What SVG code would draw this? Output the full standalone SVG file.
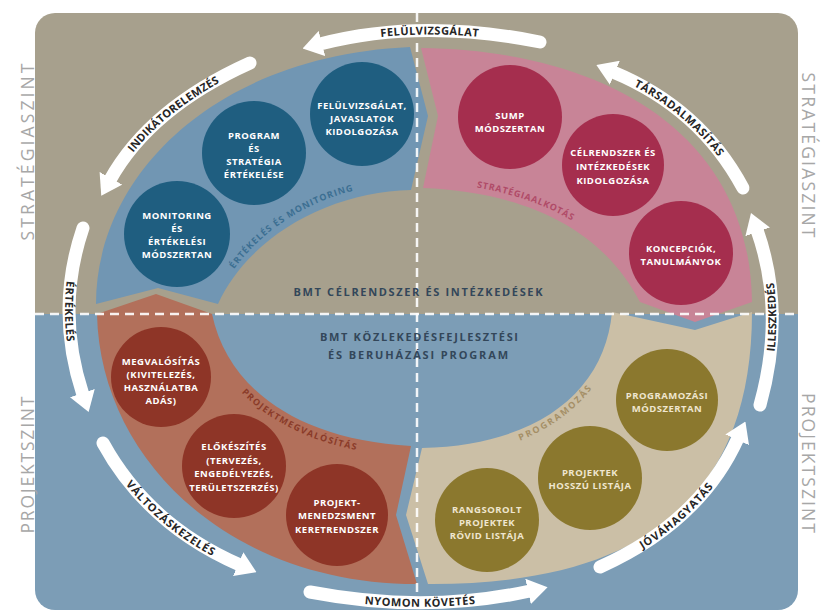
<svg xmlns="http://www.w3.org/2000/svg" width="822" height="614" viewBox="0 0 822 614">
<defs>
<style>
.side{font-family:"Open Sans","Liberation Sans",sans-serif;font-size:17.5px;font-weight:400;fill:#a7a7a7;text-anchor:middle}
.ct{font-family:"Open Sans","Liberation Sans",sans-serif;font-size:9.5px;font-weight:700;fill:#ffffff;text-anchor:middle;letter-spacing:0.5px}
.ct2{fill:#efe6cf}
.al{font-family:"Open Sans","Liberation Sans",sans-serif;font-size:11px;font-weight:700;fill:#262626;text-anchor:middle}
.bl{font-family:"Open Sans","Liberation Sans",sans-serif;font-size:9px;font-weight:700;text-anchor:middle}
.mid{font-family:"Open Sans","Liberation Sans",sans-serif;font-size:11px;font-weight:700;fill:#33475a;text-anchor:middle}
.arrow{fill:none;stroke:#ffffff;stroke-width:13;stroke-linecap:round;marker-end:url(#head)}
.dash{fill:none;stroke:#ffffff;stroke-width:2.5;stroke-dasharray:9 6;opacity:0.9}
.cb{fill:#1f5e80}.cp{fill:#a52e4e}.cr{fill:#8e3527}.co{fill:#8b782e}
</style>
<marker id="head" markerUnits="userSpaceOnUse" markerWidth="20" markerHeight="26" viewBox="0 0 20 26" refX="2" refY="13" orient="auto">
<path d="M0,0 L20,13 L0,26 Z" fill="#ffffff"/>
</marker>
<clipPath id="panel"><rect x="35" y="13" width="763" height="597" rx="20"/></clipPath>
<path id="tp1" d="M320,44 Q420,18 540,42"/>
<path id="tp2" d="M110,180 Q150,108 250,63"/>
<path id="tp3" d="M83,228 Q55,310 83,395"/>
<path id="tp4" d="M103,443 Q148,525 240,565"/>
<path id="tp5" d="M310,592 Q425,614 530,591"/>
<path id="tp6" d="M600,567 Q700,522 738,438"/>
<path id="tp7" d="M760,405 Q786,312 757,230"/>
<path id="tp8" d="M613,72 Q700,108 743,188"/>
<path id="bp1" d="M218,298 C248,228 328,186 400,184"/>
<path id="bp2" d="M423,182 C522,186 604,220 646,296"/>
<path id="bp3" d="M202,318 C218,398 296,452 410,456"/>
<path id="bp4" d="M430,458 C545,455 615,392 622,312"/>
</defs>
<rect x="0" y="0" width="822" height="614" fill="#ffffff"/>
<g id="panel-bg" clip-path="url(#panel)">
<rect x="35" y="13" width="763" height="301" fill="#a7a08d"/>
<rect x="35" y="314" width="763" height="296" fill="#7c9db6"/>
</g>
<g id="bands">
<path id="band-ertekeles" d="M96,304 C96,176 214,56 410,47 L428,116 L411,190 C330,192 250,235 218,304 L158,288 Z" fill="#7196b3"/>
<path id="band-strategia" d="M421,48 C600,50 750,130 752,302 L695,322 L640,302 C600,225 520,192 423,188 L438,116 Z" fill="#c88497"/>
<path id="band-programozas" d="M612,312 L695,330 L752,312 C752,500 640,585 428,584 L406,515 L422,448 C540,445 605,390 612,312 Z" fill="#cbbfa6"/>
<path id="band-projekt" d="M97,314 L156,294 L212,314 C228,390 300,440 411,446 L396,515 L417,584 C230,584 100,460 97,314 Z" fill="#b2705b"/>
</g>
<g id="dividers">
<line class="dash" x1="35" y1="314" x2="798" y2="314"/>
<line class="dash" x1="417" y1="13" x2="417" y2="610"/>
</g>
<g id="band-labels">
<text class="bl" fill="#3c6f92" letter-spacing="1"><textPath href="#bp1" startOffset="47%">ÉRTÉKELÉS ÉS MONITORING</textPath></text>
<text class="bl" fill="#b04b68" letter-spacing="0.8"><textPath href="#bp2" startOffset="40%">STRATÉGIAALKOTÁS</textPath></text>
<text class="bl" fill="#8a3b29" letter-spacing="1.3"><textPath href="#bp3" startOffset="56%">PROJEKTMEGVALÓSÍTÁS</textPath></text>
<text class="bl" fill="#a58f66" letter-spacing="2"><textPath href="#bp4" startOffset="52%">PROGRAMOZÁS</textPath></text>
</g>
<g id="n-felulvizsgalat"><circle class="cb" cx="362" cy="114" r="52"/>
<text class="ct"><tspan x="362" y="108.5">FELÜLVIZSGÁLAT,</tspan><tspan x="362" y="121.5">JAVASLATOK</tspan><tspan x="362" y="134.5">KIDOLGOZÁSA</tspan></text></g>
<g id="n-program"><circle class="cb" cx="254" cy="153" r="52"/>
<text class="ct"><tspan x="254" y="138.5">PROGRAM</tspan><tspan x="254" y="151.5">ÉS</tspan><tspan x="254" y="164.5">STRATÉGIA</tspan><tspan x="254" y="177.5">ÉRTÉKELÉSE</tspan></text></g>
<g id="n-monitoring"><circle class="cb" cx="177" cy="234" r="53"/>
<text class="ct"><tspan x="177" y="218.5">MONITORING</tspan><tspan x="177" y="231.5">ÉS</tspan><tspan x="177" y="244.5">ÉRTÉKELÉSI</tspan><tspan x="177" y="257.5">MÓDSZERTAN</tspan></text></g>
<g id="n-sump"><circle class="cp" cx="510" cy="117" r="52"/>
<text class="ct"><tspan x="510" y="118.5">SUMP</tspan><tspan x="510" y="131.5">MÓDSZERTAN</tspan></text></g>
<g id="n-celrendszer"><circle class="cp" cx="613" cy="165" r="51"/>
<text class="ct"><tspan x="613" y="156">CÉLRENDSZER ÉS</tspan><tspan x="613" y="170">INTÉZKEDÉSEK</tspan><tspan x="613" y="183.5">KIDOLGOZÁSA</tspan></text></g>
<g id="n-koncepciok"><circle class="cp" cx="681" cy="253" r="52"/>
<text class="ct"><tspan x="681" y="251.5">KONCEPCIÓK,</tspan><tspan x="681" y="264.5">TANULMÁNYOK</tspan></text></g>
<g id="n-megvalositas"><circle class="cr" cx="161" cy="377" r="50"/>
<text class="ct"><tspan x="161" y="365">MEGVALÓSÍTÁS</tspan><tspan x="161" y="378">(KIVITELEZÉS,</tspan><tspan x="161" y="391">HASZNÁLATBA</tspan><tspan x="161" y="404">ADÁS)</tspan></text></g>
<g id="n-elokeszites"><circle class="cr" cx="234" cy="466" r="52"/>
<text class="ct"><tspan x="234" y="450">ELŐKÉSZÍTÉS</tspan><tspan x="234" y="463.5">(TERVEZÉS,</tspan><tspan x="234" y="477">ENGEDÉLYEZÉS,</tspan><tspan x="234" y="490.5">TERÜLETSZERZÉS)</tspan></text></g>
<g id="n-projektmenedzsment"><circle class="cr" cx="337" cy="515" r="51"/>
<text class="ct"><tspan x="337" y="505.5">PROJEKT-</tspan><tspan x="337" y="519">MENEDZSMENT</tspan><tspan x="337" y="532.5">KERETRENDSZER</tspan></text></g>
<g id="n-programozasi"><circle class="co" cx="667" cy="400" r="51"/>
<text class="ct ct2"><tspan x="667" y="398.5">PROGRAMOZÁSI</tspan><tspan x="667" y="411.5">MÓDSZERTAN</tspan></text></g>
<g id="n-hosszu"><circle class="co" cx="590" cy="478" r="52"/>
<text class="ct ct2"><tspan x="590" y="476">PROJEKTEK</tspan><tspan x="590" y="489">HOSSZÚ LISTÁJA</tspan></text></g>
<g id="n-rovid"><circle class="co" cx="487" cy="520" r="52"/>
<text class="ct ct2"><tspan x="487" y="512.5">RANGSOROLT</tspan><tspan x="487" y="525.5">PROJEKTEK</tspan><tspan x="487" y="538.5">RÖVID LISTÁJA</tspan></text></g>
<g id="center-labels">
<text class="mid" x="418" y="295.5" textLength="249">BMT CÉLRENDSZER ÉS INTÉZKEDÉSEK</text>
<text class="mid" x="419" y="341" textLength="198">BMT KÖZLEKEDÉSFEJLESZTÉSI</text>
<text class="mid" x="418" y="359" textLength="180">ÉS BERUHÁZÁSI PROGRAM</text>
</g>
<g id="connectors">
<path class="arrow" d="M540,42 Q420,18 320,44"/>
<path class="arrow" d="M250,63 Q150,108 110,180"/>
<path class="arrow" d="M83,228 Q55,310 83,395"/>
<path class="arrow" d="M103,443 Q148,525 240,565"/>
<path class="arrow" d="M310,592 Q425,614 530,591"/>
<path class="arrow" d="M600,567 Q700,522 738,438"/>
<path class="arrow" d="M760,405 Q786,312 757,230"/>
<path class="arrow" d="M743,188 Q700,108 613,72"/>
<text class="al" dy="4" letter-spacing="0.5"><textPath href="#tp1" startOffset="50%">FELÜLVIZSGÁLAT</textPath></text>
<text class="al" dy="4" letter-spacing="0.3"><textPath href="#tp2" startOffset="50%">INDIKÁTORELEMZÉS</textPath></text>
<text class="al" dy="4" letter-spacing="0.3"><textPath href="#tp3" startOffset="50%">ÉRTÉKELÉS</textPath></text>
<text class="al" dy="4" letter-spacing="0.8"><textPath href="#tp4" startOffset="55%">VÁLTOZÁSKEZELÉS</textPath></text>
<text class="al" dy="4" letter-spacing="0.5"><textPath href="#tp5" startOffset="50%">NYOMON KÖVETÉS</textPath></text>
<text class="al" dy="4" letter-spacing="0.7"><textPath href="#tp6" startOffset="48%">JÓVÁHAGYATÁS</textPath></text>
<text class="al" dy="4"><textPath href="#tp7" startOffset="50%">ILLESZKEDÉS</textPath></text>
<text class="al" dy="4" letter-spacing="0.6"><textPath href="#tp8" startOffset="46%">TÁRSADALMASÍTÁS</textPath></text>
</g>
<g id="side-labels">
<text class="side" transform="translate(34,152) rotate(-90)" textLength="177">STRATÉGIASZINT</text>
<text class="side" transform="translate(34,465) rotate(-90)" textLength="137">PROJEKTSZINT</text>
<text class="side" transform="translate(802,155) rotate(90)" textLength="165">STRATÉGIASZINT</text>
<text class="side" transform="translate(802,463) rotate(90)" textLength="140">PROJEKTSZINT</text>
</g>
</svg>
